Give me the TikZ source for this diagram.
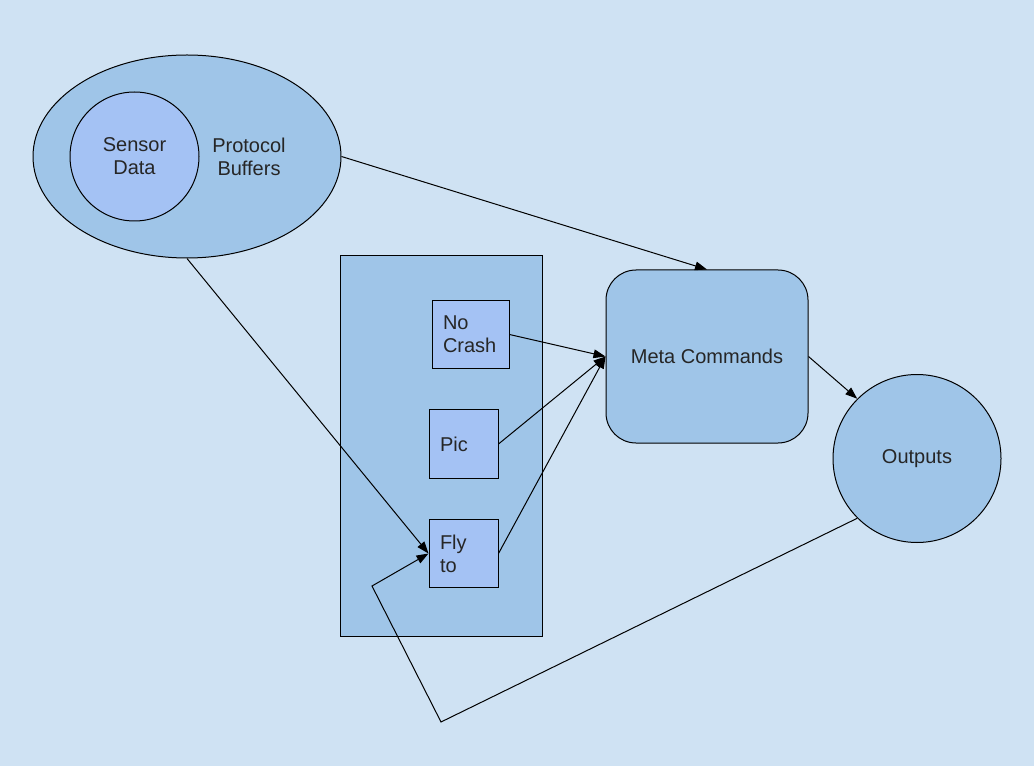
\documentclass[tikz,border=0pt]{standalone}
\usepackage{fontspec}
\setmainfont{Liberation Sans}
\usetikzlibrary{shapes.geometric,arrows.meta}
\definecolor{bgc}{HTML}{CFE2F3}
\definecolor{midc}{HTML}{9FC5E8}
\definecolor{lightc}{HTML}{A4C2F4}
\tikzset{
  every node/.style={font=\fontsize{15}{17.25}\selectfont, text=black!85},
  base/.style={draw=black, line width=0.75pt},
  smallbox/.style={base, fill=lightc, rectangle, align=left, inner xsep=8.25pt, inner ysep=0pt, minimum height=51.5pt},
  conn/.style={draw=black, line width=0.75pt, -{Triangle[length=9pt,width=6.5pt]}},
}
\begin{document}
\begin{tikzpicture}[x=0.75pt,y=-0.75pt]
\fill[bgc] (0,0) rectangle (1034,766);
\useasboundingbox (0,0) rectangle (1034,766);
% Protocol buffers ellipse
\node[base, ellipse, fill=midc, minimum width=231pt, minimum height=152.25pt, inner sep=0pt] (pb) at (187,156.5) {};
\node[base, circle, fill=lightc, minimum size=96.75pt, inner sep=0pt, align=center] (sd) at (134.5,156.5) {Sensor\\Data};
\node[align=center] (pbt) at (249,157) {Protocol\\Buffers};
% container
\node[base, rectangle, fill=midc, minimum width=151.5pt, minimum height=285pt, inner sep=0pt] (cont) at (441,446) {};
\node[smallbox, text width=41.25pt] (nc) at (470.5,334.5) {No\\Crash};
\node[smallbox, text width=35.25pt] (pic) at (463.5,444) {Pic};
\node[smallbox, text width=35.25pt] (fly) at (463.5,553.5) {Fly\\to};
% meta commands
\node[base, rectangle, rounded corners=22.5pt, fill=midc, minimum width=151.5pt, minimum height=129.75pt, inner sep=0pt] (meta) at (707,356.5) {Meta Commands};
% outputs
\node[base, circle, fill=midc, minimum size=126pt, inner sep=0pt] (out) at (917,458.5) {Outputs};
% helper coordinates
\coordinate (c1) at (441,722);
\coordinate (c2) at (372,586);
% connectors
\draw[conn] (pb.east) -- (meta.north);
\draw[conn] (pb.south) -- (fly.west);
\draw[conn] (nc.east) -- (meta.west);
\draw[conn] (pic.east) -- (meta.west);
\draw[conn] (fly.east) -- (meta.west);
\draw[conn] (meta.east) -- (out.135);
\draw[conn] (out.225) -- (c1) -- (c2) -- (fly.west);
\end{tikzpicture}
\end{document}
